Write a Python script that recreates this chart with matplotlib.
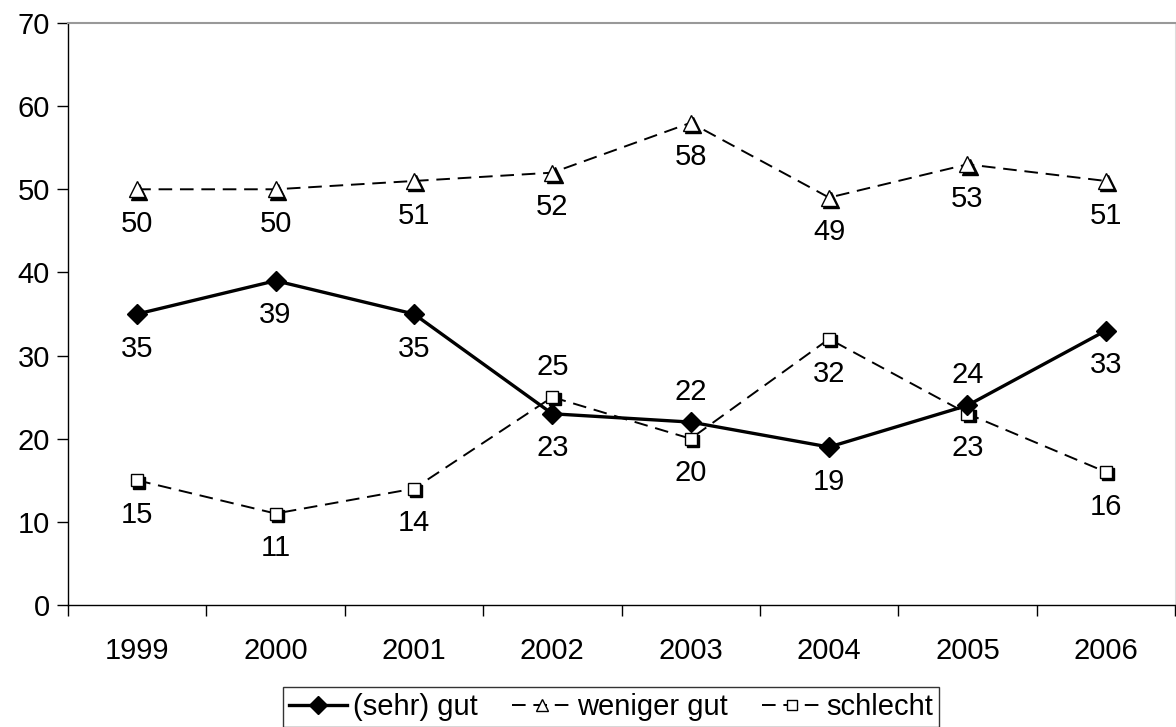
import matplotlib
matplotlib.use("Agg")
import matplotlib.pyplot as plt
import matplotlib.transforms as mtransforms
import numpy as np

plt.rcParams['font.family'] = ['Liberation Sans', 'DejaVu Sans']

years = ['1999', '2000', '2001', '2002', '2003', '2004', '2005', '2006']
gut = [35, 39, 35, 23, 22, 19, 24, 33]
weniger_gut = [50, 50, 51, 52, 58, 49, 53, 51]
schlecht = [15, 11, 14, 25, 20, 32, 23, 16]

# label placement: 1 = above the point, -1 = below
gut_side = [-1, -1, -1, -1, 1, -1, 1, -1]
weniger_side = [-1, -1, -1, -1, -1, -1, -1, -1]
schlecht_side = [-1, -1, -1, 1, -1, -1, -1, -1]

fs = 21

fig = plt.figure(figsize=(11.76, 7.27), dpi=100)
ax = fig.add_axes([68/1176, 1 - 605/727, 1107/1176, (605-23)/727])

x = np.arange(len(years))

def shadow(series, marker, ms):
    tr = mtransforms.offset_copy(ax.transData, fig=fig, x=1.6, y=-1.6, units='points')
    ax.plot(x, series, linestyle='none', marker=marker, ms=ms, color='black',
            transform=tr, zorder=3)

ax.plot(x, weniger_gut, color='black', lw=1.4, dashes=(7, 4), zorder=2)
shadow(weniger_gut, '^', 11)
ax.plot(x, weniger_gut, linestyle='none', marker='^', ms=11, mfc='white',
        mec='black', mew=1, zorder=4)

ax.plot(x, schlecht, color='black', lw=1.4, dashes=(7, 4), zorder=2)
shadow(schlecht, 's', 8)
ax.plot(x, schlecht, linestyle='none', marker='s', ms=8, mfc='white',
        mec='black', mew=1, zorder=4)

ax.plot(x, gut, color='black', lw=2.4, zorder=5)
ax.plot(x, gut, linestyle='none', marker='D', ms=10, color='black', zorder=6)

for series, side in [(gut, gut_side), (weniger_gut, weniger_side), (schlecht, schlecht_side)]:
    for i, v in enumerate(series):
        off = 22 if side[i] > 0 else -25
        ax.annotate(str(v), (x[i], v), xytext=(0, off), textcoords='offset points',
                    ha='center', va='center', fontsize=fs, zorder=7)

ax.set_xlim(-0.5, len(years) - 0.5)
ax.set_ylim(0, 70)
ax.set_yticks(range(0, 71, 10))
ax.tick_params(axis='y', length=8, width=1, labelsize=fs, pad=5)
ax.set_xticks(x)
ax.set_xticklabels(years)
ax.set_xticks(np.arange(-0.5, len(years)), minor=True)
ax.tick_params(axis='x', which='major', length=0, labelsize=fs, pad=23)
ax.tick_params(axis='x', which='minor', length=8, width=1)

ax.spines['top'].set_color('#999999')
ax.spines['top'].set_linewidth(1.5)
ax.spines['right'].set_color('#dddddd')
ax.spines['left'].set_linewidth(1)
ax.spines['bottom'].set_linewidth(1)

h1, = ax.plot([], [], color='black', lw=2.4, marker='D', ms=9)
h2, = ax.plot([], [], color='black', lw=1.4, dashes=(7, 4), marker='^', ms=9,
              mfc='white', mec='black')
h3, = ax.plot([], [], color='black', lw=1.4, dashes=(7, 4), marker='s', ms=7,
              mfc='white', mec='black')
leg = fig.legend([h1, h2, h3], ['(sehr) gut', 'weniger gut', 'schlecht'],
                 loc='upper center', bbox_to_anchor=(611/1176, 1 - 687/727),
                 ncol=3, fontsize=fs, frameon=True, fancybox=False,
                 edgecolor='black', handlelength=2.0, handletextpad=0.2,
                 columnspacing=1.2, borderpad=0.2, borderaxespad=0)
leg.get_frame().set_linewidth(1)

fig.savefig('out.png', dpi=100)
